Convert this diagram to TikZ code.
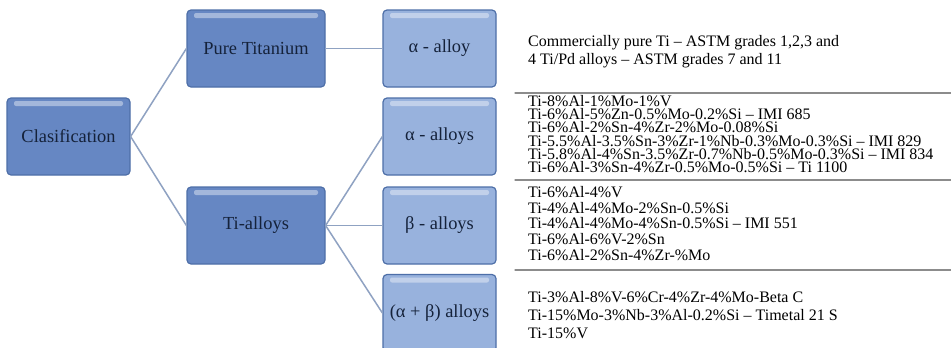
\documentclass[tikz,border=0pt]{standalone}
\usepackage{fontspec}
\setmainfont{Liberation Serif}
\definecolor{boxfill}{HTML}{6687C3}
\definecolor{subfill}{HTML}{98B2DD}
\definecolor{boxedge}{HTML}{4E6FA8}
\definecolor{boxtext}{HTML}{15223A}
\definecolor{connline}{HTML}{8FA2C2}
\definecolor{rulegray}{HTML}{8C8C8C}
\newcommand{\listfont}[1]{\fontsize{16}{#1}\selectfont}

\begin{document}
\begin{tikzpicture}[line cap=round,line join=round,x=1pt,y=-1pt,
  tbox/.style={draw=boxedge,line width=1.2pt,rounded corners=4pt,fill=boxfill,text=boxtext,
    font=\fontsize{18.4}{20}\selectfont,minimum height=77pt,inner sep=0pt,
    path picture={\fill [white,opacity=0.4,rounded corners=2pt] ([xshift=7pt,yshift=-3pt]path picture bounding box.north west) rectangle ([xshift=-7pt,yshift=-8pt]path picture bounding box.north east);}},
  subbox/.style={tbox,fill=subfill,minimum width=113pt},
  conn/.style={draw=connline,line width=1.5pt},
  listtxt/.style={anchor=north west,inner sep=0pt,align=left,text=black}]

\useasboundingbox [fill=white] (0,0) rectangle (951,348);

% boxes
\node [tbox,minimum width=123pt] (clas) at (68.5,136.5) {Clasification};
\node [tbox,minimum width=138pt] (pure) at (256,48.5) {Pure Titanium};
\node [tbox,minimum width=138pt] (tialloys) at (256,225.5) {Ti-alloys};
\node [subbox] (alpha) at (439.5,48.5) {α - alloy};
\node [subbox] (alphas) at (439.5,136.5) {α - alloys};
\node [subbox] (betas) at (439.5,225.5) {β - alloys};
\node [subbox] (alphabeta) at (439.5,313) {(α + β) alloys};
\draw [conn] (clas.east) -- (pure.west);
\draw [conn] (clas.east) -- (tialloys.west);
\draw [conn] (pure.east) -- (alpha.west);
\draw [conn] (tialloys.east) -- (alphas.west);
\draw [conn] (tialloys.east) -- (betas.west);
\draw [conn] (tialloys.east) -- (alphabeta.west);

% lists
\node [listtxt,font=\listfont{18}] (puretxt) at (528,35) {Commercially pure Ti – ASTM grades 1,2,3 and\\4 Ti/Pd alloys – ASTM grades 7 and 11};
\node [listtxt,font=\listfont{13.3}] (alphatxt) at (528,95) {Ti-8\%Al-1\%Mo-1\%V\\Ti-6\%Al-5\%Zn-0.5\%Mo-0.2\%Si – IMI 685\\Ti-6\%Al-2\%Sn-4\%Zr-2\%Mo-0.08\%Si\\Ti-5.5\%Al-3.5\%Sn-3\%Zr-1\%Nb-0.3\%Mo-0.3\%Si – IMI 829\\Ti-5.8\%Al-4\%Sn-3.5\%Zr-0.7\%Nb-0.5\%Mo-0.3\%Si – IMI 834\\Ti-6\%Al-3\%Sn-4\%Zr-0.5\%Mo-0.5\%Si – Ti 1100};
\node [listtxt,font=\listfont{15.7}] (betatxt) at (528,186) {Ti-6\%Al-4\%V\\Ti-4\%Al-4\%Mo-2\%Sn-0.5\%Si\\Ti-4\%Al-4\%Mo-4\%Sn-0.5\%Si – IMI 551\\Ti-6\%Al-6\%V-2\%Sn\\Ti-6\%Al-2\%Sn-4\%Zr-\%Mo};
\node [listtxt,font=\listfont{18}] (abtxt) at (528,291) {Ti-3\%Al-8\%V-6\%Cr-4\%Zr-4\%Mo-Beta C\\Ti-15\%Mo-3\%Nb-3\%Al-0.2\%Si – Timetal 21 S\\Ti-15\%V};

% rules
\draw [rulegray,line width=1.2pt] (515,93) -- (951,93);
\draw [rulegray,line width=1.2pt] (515,180) -- (951,180);
\draw [rulegray,line width=1.2pt] (515,270) -- (951,270);

\end{tikzpicture}
\end{document}
